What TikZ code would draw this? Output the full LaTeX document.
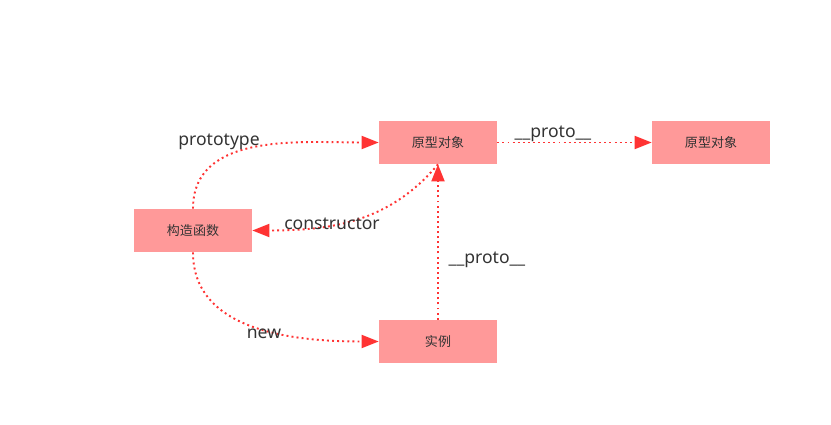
\documentclass[tikz,border=0pt]{standalone}
\usepackage{fontspec}
\setmainfont{Noto Sans}
\newfontfamily\cjk{Noto Sans CJK SC}
\usepackage{tikz}
\usetikzlibrary{positioning, arrows.meta}
\usepackage{xcolor}
\definecolor{boxpink}{RGB}{255,153,153}
\definecolor{linkred}{RGB}{255,51,51}
\definecolor{txtgray}{RGB}{51,51,51}

\begin{document}
\begin{tikzpicture}[
			obj/.style={rectangle, fill=boxpink, draw=none,
				minimum width=2.36cm, minimum height=0.86cm, inner sep=0pt,
				font=\cjk\fontsize{7.4}{9}\selectfont, text=txtgray},
			link/.style={-{Triangle[length=0.34cm,width=0.26cm]}, linkred,
				line width=1.1pt, dash pattern=on 1.1pt off 1.8pt},
			lbl/.style={font=\fontsize{10}{12}\selectfont, text=txtgray, inner sep=0pt}
			]
			
			% Рамка
			\useasboundingbox (0,0) rectangle (16.62,-8.48);
			
			% Объекты
			\node[obj] (proto) at (8.76,-2.85) {原型对象};
			\node[obj] (protoup) at (14.22,-2.85) {原型对象};
			\node[obj] (ctor) at (3.86,-4.61) {构造函数};
			\node[obj] (inst) at (8.76,-6.83) {实例};
			
			% Связи
			\draw[link] (ctor.north) to[out=90, in=180] (proto.west);
			\draw[link] (proto.south) to[out=-130, in=0] (ctor.east);
			\draw[link] (proto.east) -- (protoup.west);
			\draw[link] (inst.north) -- (proto.south);
			\draw[link] (ctor.south) to[out=-90, in=180] (inst.west);
			
			% Подписи
			\node[lbl] (lprototype) at (4.38,-2.84) {prototype};
			\node[lbl] (lprotoa) at (11.06,-2.68) {\_\_proto\_\_};
			\node[lbl] (lconstructor) at (6.64,-4.48) {constructor};
			\node[lbl] (lprotob) at (9.74,-5.20) {\_\_proto\_\_};
			\node[lbl] (lnew) at (5.28,-6.68) {new};
			
		\end{tikzpicture}
\end{document}
